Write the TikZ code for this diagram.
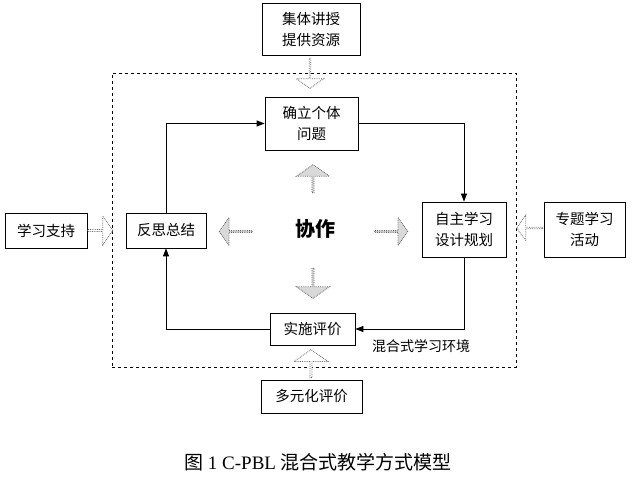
\documentclass[tikz,border=0pt]{standalone}
\usepackage{fontspec}
\setmainfont{Liberation Serif}
\newfontfamily\cjk{Noto Sans CJK SC}
\usetikzlibrary{shapes.arrows,arrows.meta}
\begin{document}
\begin{tikzpicture}[x=1pt,y=-1pt,
 box/.style={draw, line width=0.8pt, inner sep=0pt, font=\cjk\fontsize{14.5}{21}\selectfont, align=center},
 conn/.style={line width=0.8pt, -{Triangle[length=8pt,width=6pt]}},
 hollow/.style={single arrow, draw=black!60, densely dotted, fill=white, inner sep=0pt, single arrow head extend=6pt, single arrow tip angle=110, line width=0.8pt},
 grayarrow/.style={hollow, fill=black!15}]
\useasboundingbox (0,0) rectangle (635,478);
\node[draw, dashed, line width=0.7pt, minimum width=404pt, minimum height=294pt] (frame) at (314,220) {};
\node[box, minimum width=98pt, minimum height=52pt] (top) at (311,29) {集体讲授\\提供资源};
\node[box, minimum width=93pt, minimum height=53pt] (q) at (311.5,123.5) {确立个体\\问题};
\node[box, minimum width=82pt, minimum height=35pt] (sup) at (46,230.5) {学习支持};
\node[box, minimum width=80pt, minimum height=35pt] (ref) at (166,230.5) {反思总结};
\node[box, minimum width=84pt, minimum height=55pt] (self) at (464,229.5) {自主学习\\设计规划};
\node[box, minimum width=81pt, minimum height=55pt] (topic) at (584.5,229.5) {专题学习\\活动};
\node[box, minimum width=85pt, minimum height=32pt] (impl) at (312.5,329) {实施评价};
\node[box, minimum width=101pt, minimum height=33pt] (multi) at (311.5,396.5) {多元化评价};
\draw[conn] (q.east) -| (self.north);
\draw[conn] (ref.north) |- (q.west);
\draw[conn] (self.south) |- (impl.east);
\draw[conn] (impl.west) -| (ref.south);
\node[hollow, minimum height=30pt, minimum width=27pt, shape border rotate=270] (a1) at (310,73) {};
\node[hollow, minimum height=25pt, minimum width=29pt] (a2) at (100,230.5) {};
\node[hollow, minimum height=26pt, minimum width=26pt, shape border rotate=180] (a3) at (530,228) {};
\node[hollow, minimum height=28pt, minimum width=34pt, shape border rotate=90] (a4) at (311,364) {};
\node[grayarrow, minimum height=33pt, minimum width=28pt, shape border rotate=180] (g1) at (236,231.5) {};
\node[grayarrow, minimum height=33pt, minimum width=28pt] (g2) at (391,231.5) {};
\node[grayarrow, minimum height=28pt, minimum width=33pt, shape border rotate=90] (g3) at (313,179) {};
\node[grayarrow, minimum height=30pt, minimum width=33pt, shape border rotate=270] (g4) at (313,283) {};
\node[font=\cjk\bfseries\fontsize{20}{24}\selectfont] (coop) at (315,229) {协作};
\node[font=\cjk\fontsize{14}{17}\selectfont] (env) at (421,346) {混合式学习环境};
\node[font=\fontsize{19}{23}\selectfont] (cap) at (318,462) {{\cjk 图} 1 C-PBL {\cjk 混合式教学方式模型}};
\end{tikzpicture}
\end{document}
